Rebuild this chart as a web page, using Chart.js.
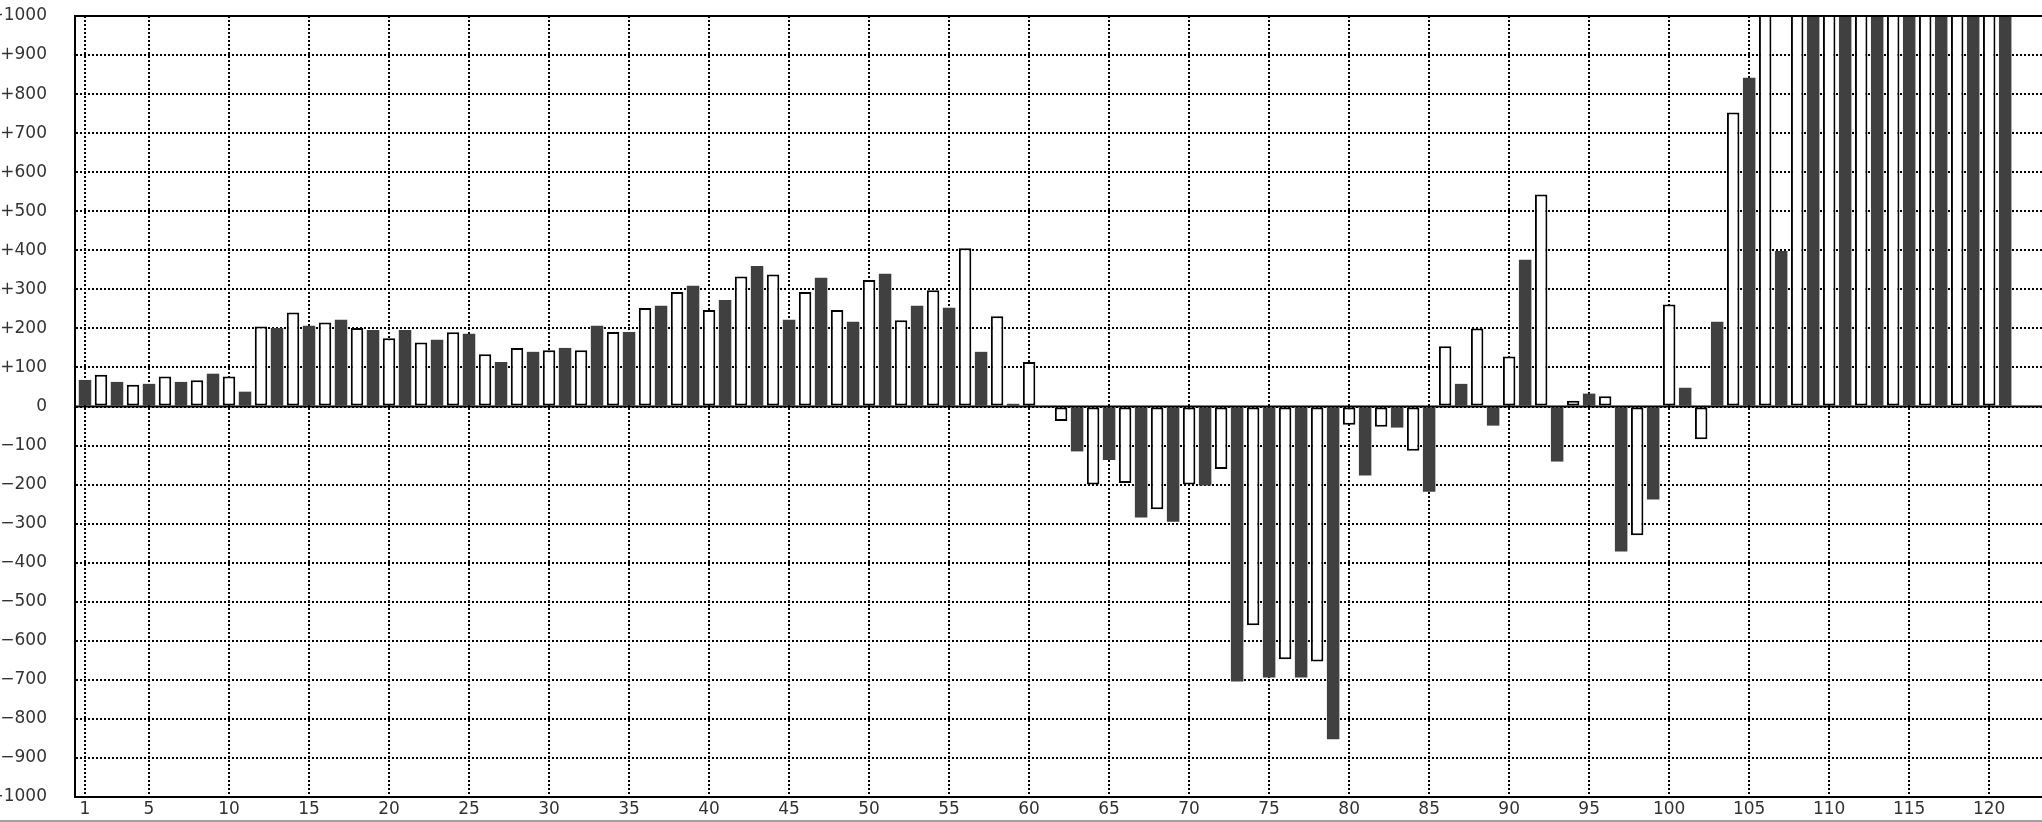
<!DOCTYPE html>
<html>
<head>
<meta charset="utf-8">
<script src="https://cdn.jsdelivr.net/npm/chart.js@4/dist/chart.umd.min.js"></script>
<style>
  html, body { margin: 0; padding: 0; background: #fff; overflow: hidden; }
  #wrap { width: 2042px; height: 820px; border-bottom: 2px solid #a0a0a0; }
  canvas { display: block; }
</style>
</head>
<body>
<div id="wrap"><canvas id="myChartBar" width="2042" height="820"></canvas></div>
<script>
// odd positions (dark bars)
const darkCategories = [1, 3, 5, 7, 9, 11, 13, 15, 17, 19, 21, 23, 25, 27, 29, 31, 33, 35, 37, 39,
  41, 43, 45, 47, 49, 51, 53, 55, 57, 59, 61, 63, 65, 67, 69, 71, 73, 75, 77, 79,
  81, 83, 85, 87, 89, 91, 93, 95, 97, 99, 101, 103, 105, 107, 109, 111, 113, 115, 117, 119, 121];
const darkValues = [68, 63, 58, 63, 84, 38, 201, 207, 222, 196, 196, 171, 186, 114, 140, 150, 207, 191, 258, 309,
  273, 360, 222, 330, 217, 340, 258, 253, 140, 7, 0, -115, -137, -284, -295, -202, -704, -694, -694, -852,
  -177, -54, -218, 58, -49, 376, -141, 33, -371, -238, 48, 217, 842, 398, 1100, 1100, 1100, 1100, 1100, 1100, 1100];

// even positions (white bars)
const lightCategories = [2, 4, 6, 8, 10, 12, 14, 16, 18, 20, 22, 24, 26, 28, 30, 32, 34, 36, 38, 40,
  42, 44, 46, 48, 50, 52, 54, 56, 58, 60, 62, 64, 66, 68, 70, 72, 74, 76, 78, 80,
  82, 84, 86, 88, 90, 92, 94, 96, 98, 100, 102, 104, 106, 108, 110, 112, 114, 116, 118, 120];
const lightValues = [81, 56, 77, 67, 77, 205, 241, 215, 201, 175, 164, 190, 134, 150, 144, 144, 191, 252, 293, 247,
  333, 338, 293, 247, 324, 221, 298, 405, 231, 114, -37, -200, -196, -263, -200, -160, -560, -647, -653, -47,
  -52, -113, 154, 200, 128, 543, 15, 26, -330, 261, -84, 753, 1100, 1100, 1100, 1100, 1100, 1100, 1100, 1100];

const xTicks = [1, 5, 10, 15, 20, 25, 30, 35, 40, 45, 50, 55, 60, 65, 70, 75, 80, 85, 90, 95, 100, 105, 110, 115, 120];

const tickFont = { family: "'DejaVu Sans'", size: 17 };

// solid zero line and top frame line, drawn over the bars
const framePlugin = {
  id: 'frame',
  afterDatasetsDraw(chart) {
    const { ctx, chartArea, scales } = chart;
    const y0 = scales.y.getPixelForValue(0);
    ctx.save();
    ctx.strokeStyle = '#000';
    ctx.lineWidth = 2;
    ctx.beginPath();
    ctx.moveTo(chartArea.left, y0);
    ctx.lineTo(chartArea.right, y0);
    ctx.moveTo(chartArea.left, chartArea.top);
    ctx.lineTo(chartArea.right, chartArea.top);
    ctx.stroke();
    ctx.restore();
  }
};

const myChart1 = document.getElementById("myChartBar").getContext("2d");
new Chart(myChart1, {
  type: 'bar',
  plugins: [framePlugin],
  data: {
    datasets: [{
      label: 'dark',
      data: darkCategories.map((c, i) => ({ x: c, y: darkValues[i] })),
      backgroundColor: "#404040",
      borderWidth: 0,
    }, {
      label: 'light',
      data: lightCategories.map((c, i) => ({ x: c, y: lightValues[i] })),
      backgroundColor: "#ffffff",
      borderColor: "#000000",
      borderWidth: 2,
      borderSkipped: false,
    }],
  },
  options: {
    responsive: false,
    animation: false,
    devicePixelRatio: 1,
    layout: { padding: { top: 16, left: 0, right: 0, bottom: 0 } },
    datasets: {
      bar: { grouped: false, categoryPercentage: 1, barPercentage: 0.78, clip: 0 }
    },
    plugins: { legend: { display: false }, tooltip: { enabled: false } },
    scales: {
      x: {
        type: 'linear',
        min: 0.375,
        max: 123.3,
        offset: false,
        afterBuildTicks: (axis) => { axis.ticks = xTicks.map(v => ({ value: v })); },
        afterFit: (axis) => { axis.height = 23; },
        ticks: { font: tickFont, color: '#333', padding: 2, maxRotation: 0, autoSkip: false },
        grid: {
          offset: false,
          color: (c) => (c.tick && xTicks.includes(c.tick.value)) ? '#000' : 'rgba(0,0,0,0)',
          lineWidth: 2,
          drawTicks: false
        },
        border: { display: true, color: '#000', width: 2, dash: [2, 2] }
      },
      y: {
        min: -1000,
        max: 1000,
        afterFit: (axis) => { axis.width = 75; },
        ticks: {
          stepSize: 100,
          font: tickFont,
          color: '#333',
          padding: 0,
          callback: (v) => v > 0 ? '+' + v : (v < 0 ? '\u2212' + Math.abs(v) : '0')
        },
        grid: { color: '#000', lineWidth: 2, drawTicks: true, tickLength: 28, tickColor: 'rgba(0,0,0,0)' },
        border: { display: true, color: '#000', width: 2, dash: [2, 2] }
      }
    }
  }
});
</script>
</body>
</html>
